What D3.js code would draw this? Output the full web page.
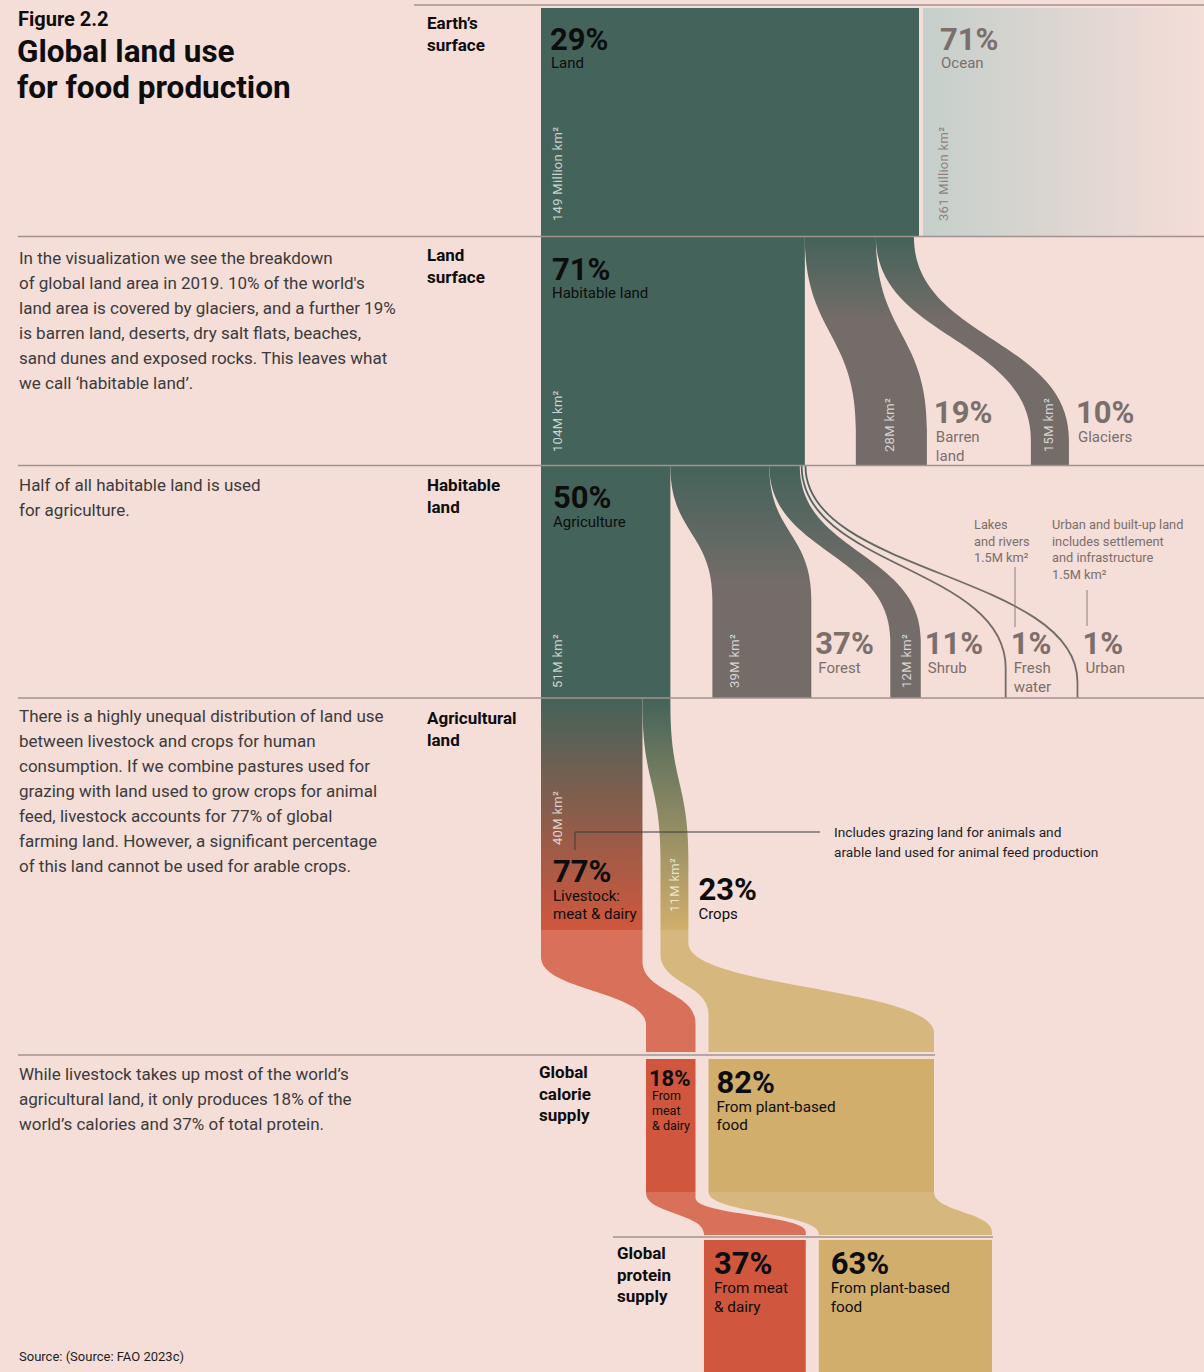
<!DOCTYPE html>
<html>
<head>
<meta charset="utf-8">
<script src="https://cdn.jsdelivr.net/npm/d3@7"></script>
<style>
  html, body { margin: 0; padding: 0; background: #f5ddd8; }
  svg { display: block; font-family: Roboto, "Noto Sans", sans-serif; }
</style>
</head>
<body>
<svg id="chart" width="1204" height="1372"></svg>
<script>
// ---- Data (areas in million km², shares in %) ----
const earthCategories = ["Land", "Ocean"];
const earthArea = [149, 361];
const earthShare = [29, 71];

const landCategories = ["Habitable land", "Barren\nland", "Glaciers"];
const landArea = [104, 28, 15];
const landShare = [71, 19, 10];

const habitableCategories = ["Agriculture", "Forest", "Shrub", "Fresh\nwater", "Urban"];
const habitableArea = [51, 39, 12, 1.5, 1.5];
const habitableShare = [50, 37, 11, 1, 1];

const agriCategories = ["Livestock:\nmeat & dairy", "Crops"];
const agriArea = [40, 11];
const agriShare = [77, 23];

const calorieLabels = ["From\nmeat\n& dairy", "From plant-based\nfood"];
const calorieShare = [18, 82];
const proteinLabels = ["From meat\n& dairy", "From plant-based\nfood"];
const proteinShare = [37, 63];

const sectionLabels = ["Earth’s\nsurface", "Land\nsurface", "Habitable\nland", "Agricultural\nland", "Global\ncalorie\nsupply", "Global\nprotein\nsupply"];

const descriptions = [
  ["In the visualization we see the breakdown", "of global land area in 2019. 10% of the world's", "land area is covered by glaciers, and a further 19%", "is barren land, deserts, dry salt flats, beaches,", "sand dunes and exposed rocks. This leaves what", "we call ‘habitable land’."],
  ["Half of all habitable land is used", "for agriculture."],
  ["There is a highly unequal distribution of land use", "between livestock and crops for human", "consumption. If we combine pastures used for", "grazing with land used to grow crops for animal", "feed, livestock accounts for 77% of global", "farming land. However, a significant percentage", "of this land cannot be used for arable crops."],
  ["While livestock takes up most of the world’s", "agricultural land, it only produces 18% of the", "world’s calories and 37% of total protein."]
];

// ---- Styling ----
const C = {
  bg: "#f5ddd8", green: "#44635a", grey: "#736c68",
  red: "#d0573d", redLight: "#d8705a", tan: "#d1ae6b", tanLight: "#d6b87f",
  rule: "#a0928e", muted: "#7b6f6b", text: "#3b3b3b", ink: "#0d0d0d"
};

const svg = d3.select("#chart");
const defs = svg.append("defs");

function grad(id, x1, y1, x2, y2, stops) {
  const g = defs.append("linearGradient").attr("id", id)
    .attr("gradientUnits", "userSpaceOnUse")
    .attr("x1", x1).attr("y1", y1).attr("x2", x2).attr("y2", y2);
  stops.forEach(([o, c]) => g.append("stop").attr("offset", o).attr("stop-color", c));
}
grad("gOcean", 922, 0, 1204, 0, [[0, "#c5cfcb"], [1, C.bg]]);
grad("gLand", 0, 237, 0, 320, [[0, C.green], [1, C.grey]]);
grad("gHab", 0, 466, 0, 580, [[0, C.green], [1, C.grey]]);
grad("gLive", 0, 698, 0, 930, [[0, C.green], [1, C.red]]);
grad("gCrop", 0, 698, 0, 930, [[0, C.green], [1, C.tan]]);

// ---- Scales ----
const area = d3.scaleLinear().domain([0, 149]).range([0, 378]);
const share = d3.scaleLinear().domain([0, 100]).range([0, 275]);

// stack values horizontally from a start, with optional gaps before each item
function stackPos(values, start, scale, gaps) {
  let x = start;
  return values.map((v, i) => {
    x += gaps ? gaps[i] : 0;
    const s = { x0: x, x1: x + scale(v) };
    x = s.x1;
    return s;
  });
}

// edges of a vertical ribbon: straight, bend, straight
const bump = d3.line().curve(d3.curveBumpY);
function edge(xTop, xBot, yTop, bendA, bendB, yBot) {
  return [[xTop, yTop], [xTop, bendA], [xBot, bendB], [xBot, yBot]];
}
function ribbon(left, right) {
  return bump(left.concat(right.slice().reverse())) + "Z";
}

const gMarks = svg.append("g");
const gText = svg.append("g");

function multiText(g, x, y, text, opts) {
  const lines = Array.isArray(text) ? text : text.split("\n");
  const t = g.append("text").attr("x", x).attr("y", y)
    .attr("font-size", opts.size).attr("font-weight", opts.weight || 400)
    .attr("fill", opts.fill || C.ink);
  if (opts.spacing) t.attr("letter-spacing", opts.spacing);
  lines.forEach((l, i) => t.append("tspan").attr("x", x).attr("dy", i === 0 ? 0 : opts.lh).text(l));
  return t;
}
function pctLabel(x, y, pct, name, fill, pctSize, nameSize, nameDx, gap, lh) {
  multiText(gText, x, y, pct + "%", { size: pctSize, weight: 700, fill });
  multiText(gText, x + (nameDx || 0), y + gap, name, { size: nameSize, fill, lh });
}
function areaLabel(x, yBottom, text, fill) {
  gText.append("text")
    .attr("transform", `translate(${x},${yBottom}) rotate(-90)`)
    .attr("font-size", 13).attr("fill", fill || "rgba(255,255,255,0.72)")
    .attr("letter-spacing", 0.3)
    .text(text);
}
const fmtArea = (v, long) => (long ? v + " Million km²" : v + "M km²");
const labelX = p => p.x0 + Math.min((p.x1 - p.x0) / 2, 16) + 5;

// ---- Row 1: Earth's surface ----
const earthPos = stackPos(earthArea, 541, area, [0, 4]);
gMarks.append("rect").attr("x", earthPos[0].x0).attr("y", 8)
  .attr("width", earthPos[0].x1 - earthPos[0].x0).attr("height", 228).attr("fill", C.green);
gMarks.append("rect").attr("x", earthPos[1].x0).attr("y", 8)
  .attr("width", earthPos[1].x1 - earthPos[1].x0).attr("height", 228).attr("fill", "url(#gOcean)");
pctLabel(earthPos[0].x0 + 9, 50, earthShare[0], earthCategories[0], C.ink, 31, 15, 1, 17.5, 18);
pctLabel(earthPos[1].x0 + 17, 50, earthShare[1], earthCategories[1], C.muted, 31, 15, 1, 17.5, 18);
areaLabel(labelX(earthPos[0]), 221, fmtArea(earthArea[0], true));
areaLabel(earthPos[1].x0 + 25, 221, fmtArea(earthArea[1], true), "#8d827e");

// ---- Row 2: Land surface ----
const landTop = stackPos(landArea, earthPos[0].x0, area);
const landBot = stackPos(landArea, 541, area, [0, 51, 104]);
const landBends = [null, [237, 430], [237, 440]];
gMarks.append("rect").attr("x", landBot[0].x0).attr("y", 237)
  .attr("width", landBot[0].x1 - landBot[0].x0).attr("height", 228).attr("fill", C.green);
landArea.forEach((v, i) => {
  if (i === 0) return;
  const [a, b] = landBends[i];
  gMarks.append("path").attr("fill", "url(#gLand)")
    .attr("d", ribbon(edge(landTop[i].x0, landBot[i].x0, 237, a, b, 465),
                      edge(landTop[i].x1, landBot[i].x1, 237, a, b, 465)));
});
pctLabel(landBot[0].x0 + 11, 280, landShare[0], landCategories[0], C.ink, 31, 15, 0, 17.5, 18);
[1, 2].forEach(i => pctLabel(landBot[i].x1 + 7, 423, landShare[i], landCategories[i], C.muted, 31, 15, 2, 18.5, 19));
landArea.forEach((v, i) => areaLabel(i === 0 ? labelX(landBot[0]) : (landBot[i].x0 + landBot[i].x1) / 2 + 3, 452, fmtArea(v)));

// ---- Row 3: Habitable land ----
const habTop = stackPos(habitableArea, landBot[0].x0, area);
const habBot = stackPos(habitableArea, 541, area, [0, 42, 79, 83, 68]);
const habBends = [null, [466, 600], [466, 640], [466, 668], [466, 682]];
gMarks.append("rect").attr("x", habBot[0].x0).attr("y", 466)
  .attr("width", habBot[0].x1 - habBot[0].x0).attr("height", 232).attr("fill", C.green);
habitableArea.forEach((v, i) => {
  if (i === 0) return;
  const [a, b] = habBends[i];
  if (i <= 2) {
    gMarks.append("path").attr("fill", "url(#gHab)")
      .attr("d", ribbon(edge(habTop[i].x0, habBot[i].x0, 466, a, b, 698),
                        edge(habTop[i].x1, habBot[i].x1, 466, a, b, 698)));
  } else {
    const ct = (habTop[i].x0 + habTop[i].x1) / 2, cb = (habBot[i].x0 + habBot[i].x1) / 2;
    gMarks.append("path").attr("fill", "none").attr("stroke", "url(#gHab)").attr("stroke-width", 1.8)
      .attr("d", bump(edge(ct, cb, 466, a, b, 698)));
  }
});
pctLabel(habBot[0].x0 + 12, 508, habitableShare[0], habitableCategories[0], C.ink, 31, 15, 0, 18.5, 18);
[1, 2, 3, 4].forEach(i => {
  const end = i <= 2 ? habBot[i].x1 : (habBot[i].x0 + habBot[i].x1) / 2 + 1;
  pctLabel(end + 4, 654, habitableShare[i], habitableCategories[i], C.muted, 31, 15, 3, 18.5, 19);
});
[0, 1, 2].forEach(i => areaLabel(i === 2 ? (habBot[i].x0 + habBot[i].x1) / 2 + 5 : labelX(habBot[i]) + (i === 1 ? 6 : 0), 688, fmtArea(habitableArea[i])));
// annotations for the thin categories
const annoHab = [
  { x: 974, lines: ["Lakes", "and rivers", "1.5M km²"], lx: 1015, ly0: 567, ly1: 627 },
  { x: 1052, lines: ["Urban and built-up land", "includes settlement", "and infrastructure", "1.5M km²"], lx: 1087, ly0: 590, ly1: 626 }
];
annoHab.forEach(a => {
  multiText(gText, a.x, 529, a.lines, { size: 12.8, fill: C.muted, lh: 16.5 });
  gMarks.append("line").attr("x1", a.lx).attr("x2", a.lx).attr("y1", a.ly0).attr("y2", a.ly1)
    .attr("stroke", "#8c807c").attr("stroke-width", 1);
});

// ---- Row 4: Agricultural land ----
const agriTop = stackPos(agriArea, habBot[0].x0, area);
const agriBot = stackPos(agriArea, 541, area, [0, 18]);
gMarks.append("rect").attr("x", agriBot[0].x0).attr("y", 698)
  .attr("width", agriBot[0].x1 - agriBot[0].x0).attr("height", 232).attr("fill", "url(#gLive)");
gMarks.append("path").attr("fill", "url(#gCrop)")
  .attr("d", ribbon(edge(agriTop[1].x0, agriBot[1].x0, 698, 705, 860, 930),
                    edge(agriTop[1].x1, agriBot[1].x1, 698, 705, 860, 930)));
pctLabel(agriBot[0].x0 + 12, 882, agriShare[0], agriCategories[0], C.ink, 31, 15, 0, 18.5, 18);
pctLabel(agriBot[1].x1 + 10, 900, agriShare[1], agriCategories[1], C.ink, 31, 15, 0, 18.5, 18);
areaLabel(labelX(agriBot[0]), 845, fmtArea(agriArea[0]));
areaLabel((agriBot[1].x0 + agriBot[1].x1) / 2 + 5, 912, fmtArea(agriArea[1]));
gMarks.append("path").attr("fill", "none").attr("stroke", "#3a3a3a").attr("stroke-width", 1)
  .attr("d", "M575,850V832H820");
multiText(gText, 834, 837, ["Includes grazing land for animals and", "arable land used for animal feed production"], { size: 13.7, fill: "#1e1e1e", lh: 20 });

// ---- Row 5: Global calorie supply ----
const calPos = stackPos(calorieShare, 646, share, [0, 13]);
const calFill = [C.red, C.tan], flowFill = [C.redLight, C.tanLight];
const toCalBends = [[[957, 1025], [961, 1023]], [[954, 1014], [943, 1033]]];
agriArea.forEach((v, i) => {
  const [l, r] = toCalBends[i];
  gMarks.append("path").attr("fill", flowFill[i])
    .attr("d", ribbon(edge(agriBot[i].x0, calPos[i].x0, 930, l[0], l[1], 1052),
                      edge(agriBot[i].x1, calPos[i].x1, 930, r[0], r[1], 1052)));
});
calorieShare.forEach((v, i) => {
  gMarks.append("rect").attr("x", calPos[i].x0).attr("y", 1059)
    .attr("width", calPos[i].x1 - calPos[i].x0).attr("height", 133).attr("fill", calFill[i]);
});
multiText(gText, calPos[0].x0 + 3, 1086, calorieShare[0] + "%", { size: 22, weight: 700 });
multiText(gText, calPos[0].x0 + 6, 1100, calorieLabels[0], { size: 12.5, lh: 15 });
pctLabel(calPos[1].x0 + 8, 1093, calorieShare[1], calorieLabels[1], C.ink, 31, 15.3, 0, 18.5, 18);

// ---- Row 6: Global protein supply ----
const proPos = stackPos(proteinShare, 704, share, [0, 13]);
const toProBends = [[[1193, 1234], [1198, 1232]], [[1192, 1234], [1192, 1232]]];
calorieShare.forEach((v, i) => {
  const [l, r] = toProBends[i];
  gMarks.append("path").attr("fill", flowFill[i])
    .attr("d", ribbon(edge(calPos[i].x0, proPos[i].x0, 1192, l[0], l[1], 1235),
                      edge(calPos[i].x1, proPos[i].x1, 1192, r[0], r[1], 1235)));
});
proteinShare.forEach((v, i) => {
  gMarks.append("rect").attr("x", proPos[i].x0).attr("y", 1240)
    .attr("width", proPos[i].x1 - proPos[i].x0).attr("height", 132).attr("fill", calFill[i]);
  pctLabel(proPos[i].x0 + (i === 0 ? 10 : 12), 1274, v, proteinLabels[i], C.ink, 31, 15.3, 0, 18.5, 19);
});

// ---- Row rules ----
const rules = [[414, 1204, 5], [18, 1204, 236.5], [18, 1204, 465.5], [18, 1204, 698], [18, 935, 1055], [613, 993, 1237]];
rules.forEach(([x1, x2, y]) => {
  svg.append("line").attr("x1", x1).attr("x2", x2).attr("y1", y).attr("y2", y)
    .attr("stroke", C.rule).attr("stroke-width", 1.5);
});

// ---- Section labels and descriptions ----
const sectionPos = [[427, 29], [427, 261], [427, 491], [427, 724], [539, 1078], [617, 1259]];
sectionLabels.forEach((s, i) => multiText(gText, sectionPos[i][0], sectionPos[i][1], s, { size: 17, weight: 700, lh: 21.5 }));
const descY = [264, 491, 722, 1080];
descriptions.forEach((d, i) => multiText(gText, 19, descY[i], d, { size: 17, fill: C.text, lh: 25 }));

// ---- Title and source ----
multiText(gText, 18, 26, "Figure 2.2", { size: 20, weight: 700 });
multiText(gText, 17, 62, ["Global land use", "for food production"], { size: 31.5, weight: 700, lh: 36 });
multiText(gText, 19, 1361, "Source: (Source: FAO 2023c)", { size: 13, fill: "#1e1e1e" });
</script>
</body>
</html>
